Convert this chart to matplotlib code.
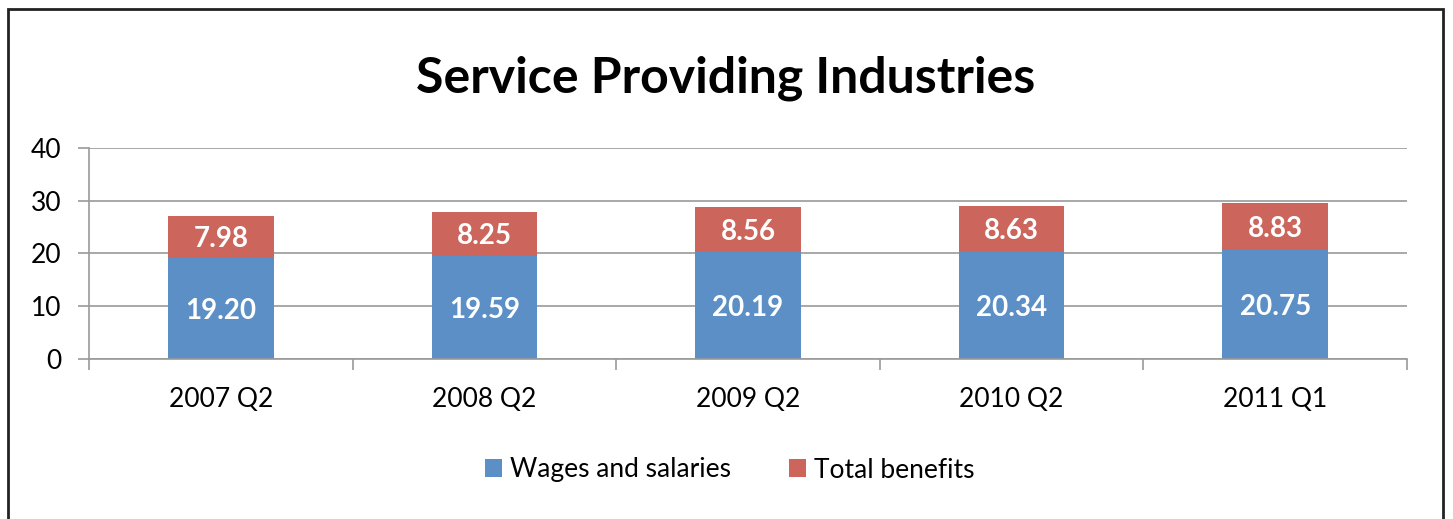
import numpy as np
import matplotlib.pyplot as plt
from matplotlib.patches import Rectangle

# Daten
periods = ["2007 Q2", "2008 Q2", "2009 Q2", "2010 Q2", "2011 Q1"]
wages = [19.20, 19.59, 20.19, 20.34, 20.75]
benefits = [7.98, 8.25, 8.56, 8.63, 8.83]

BLUE = "#5b8fc6"
RED = "#cc665c"
GRID = "#9a9a9a"

plt.rcParams["font.family"] = ["Lato", "DejaVu Sans"]

W, H = 1453, 519
fig = plt.figure(figsize=(W / 100, H / 100), dpi=100)
ax = fig.add_axes([89 / W, 1 - 359 / H, (1407 - 89) / W, (359 - 148) / H])

x = np.arange(len(periods))
b1 = ax.bar(x, wages, width=0.4, color=BLUE, zorder=2, label="Wages and salaries")
b2 = ax.bar(x, benefits, width=0.4, bottom=wages, color=RED, zorder=2,
            label="Total benefits")

for xi, w, b in zip(x, wages, benefits):
    ax.text(xi, w / 2, f"{w:.2f}", ha="center", va="center_baseline", color="white",
            fontsize=20, fontweight="bold", zorder=3)
    ax.text(xi, w + b / 2, f"{b:.2f}", ha="center", va="center_baseline", color="white",
            fontsize=20, fontweight="bold", zorder=3)

ax.set_xlim(-0.5, len(periods) - 0.5)
ax.set_ylim(0, 40)
ax.set_yticks([0, 10, 20, 30, 40])
ax.yaxis.grid(True, color=GRID, lw=1.2, zorder=0)
ax.set_axisbelow(True)

# Kategoriegrenzen als Tickmarks, Labels mittig
ax.set_xticks(np.arange(len(periods) + 1) - 0.5)
ax.set_xticklabels([])
ax.set_xticks(x, minor=True)
ax.set_xticklabels(periods, minor=True, fontsize=19)
ax.tick_params(axis="x", which="minor", length=0, pad=20)
ax.tick_params(axis="x", which="major", length=8, width=1.2, color=GRID, direction="out")
ax.tick_params(axis="y", length=8, width=1.2, color=GRID, labelsize=19, pad=12)

for side in ["top", "right"]:
    ax.spines[side].set_visible(False)
for side in ["left", "bottom"]:
    ax.spines[side].set_color(GRID)
    ax.spines[side].set_linewidth(1.2)

fig.text(0.5 * (408 + 1043) / W, 1 - 78 / H, "Service Providing Industries",
         ha="center", va="center", fontsize=36, fontweight="bold")

fig.legend(handles=[b1, b2], loc="center", bbox_to_anchor=(730 / W, 1 - 470 / H),
           ncol=2, frameon=False, fontsize=19, handlelength=0.65, handleheight=0.65,
           handletextpad=0.3, columnspacing=2.2)

# Rahmen um die gesamte Grafik
fig.patches.append(Rectangle((8 / W, -0.1), (1443 - 8) / W, 1.1 - 9 / H,
                             transform=fig.transFigure, fill=False,
                             edgecolor="#222222", lw=2))

fig.savefig("out.png", dpi=100)
